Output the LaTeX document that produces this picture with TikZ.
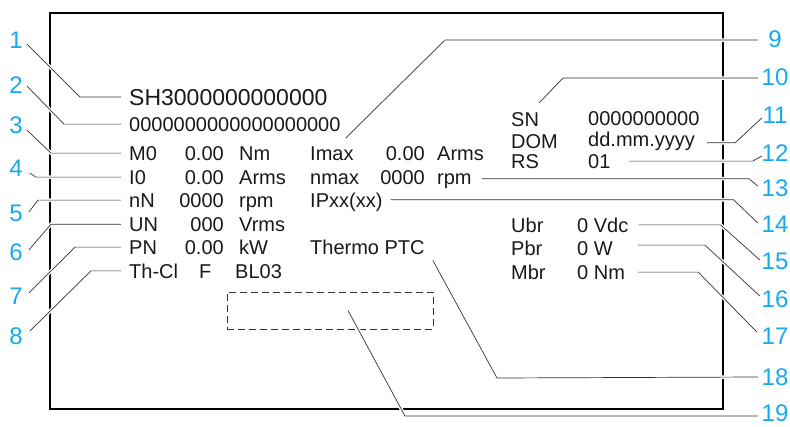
\documentclass[tikz,border=0pt]{standalone}
\usepackage{fontspec}
\setmainfont{Liberation Sans}
\usepackage{tikz}
\usetikzlibrary{positioning}
\definecolor{callout}{RGB}{20,170,240}
\definecolor{ink}{RGB}{25,25,25}
\tikzset{
  num/.style={font=\fontsize{24}{24}\selectfont, text=callout, inner sep=0pt},
  numr/.style={num, minimum width=28pt},
  txt/.style={font=\fontsize{20}{20}\selectfont, text=ink, inner sep=0pt, anchor=base west},
  val/.style={txt, anchor=base east},
  big/.style={txt, font=\fontsize{23}{23}\selectfont},
  leader/.style={draw=black!80, line width=0.7pt, preaction={draw=white, line width=3.5pt}},
}

\begin{document}
\begin{tikzpicture}[x=1pt, y=-1pt]
\useasboundingbox (0,0) rectangle (790,426);
\draw[black, line width=2pt] (50,13) rectangle (723,409);

% callout numbers
\node[num] (n1) at (16,40) {1};
\node[num] (n2) at (16,85) {2};
\node[num] (n3) at (16,125) {3};
\node[num] (n4) at (16,168) {4};
\node[num] (n5) at (16,213) {5};
\node[num] (n6) at (16,252) {6};
\node[num] (n7) at (16,296) {7};
\node[num] (n8) at (16,336) {8};
\node[numr] (n9) at (775,39) {9};
\node[numr] (n10) at (775,77) {10};
\node[numr] (n11) at (775,115) {11};
\node[numr] (n12) at (775,153) {12};
\node[numr] (n13) at (775,188) {13};
\node[numr] (n14) at (775,224) {14};
\node[numr] (n15) at (775,261) {15};
\node[numr] (n16) at (775,299) {16};
\node[numr] (n17) at (775,336) {17};
\node[numr] (n18) at (775,377) {18};
\node[numr] (n19) at (775,413) {19};

% plate text
\node[big] (sh) at (129,105) {SH3000000000000};
\node[txt] (code) at (129,131) {0000000000000000000};
\foreach \nm/\y/\lab/\val/\unit in {m0/160/M0/0.00/Nm, i0/184/I0/0.00/Arms,
    nn/207/nN/0000/rpm, un/231/UN/000/Vrms, pn/254/PN/0.00/kW}
{
\node[txt] (\nm) at (129,\y) {\lab};
\node[val] (\nm-v) at (224,\y) {\val};
\node[txt] (\nm-u) at (239,\y) {\unit};
}
\node[txt] (thcl) at (129,278) {Th-Cl};
\node[txt] (thcl-f) at (199,278) {F};
\node[txt] (thcl-bl) at (235,278) {BL03};

\node[txt] (imax) at (310,160) {Imax};
\node[val] (imax-v) at (425,160) {0.00};
\node[txt] (imax-u) at (437,160) {Arms};
\node[txt] (nmax) at (310,184) {nmax};
\node[val] (nmax-v) at (425,184) {0000};
\node[txt] (nmax-u) at (437,184) {rpm};
\node[txt] (ipxx) at (310,207) {IPxx(xx)};
\node[txt] (thermo) at (310,254) {Thermo PTC};

\node[txt] (sn) at (511,126) {SN};
\node[txt] (sn-v) at (588,125) {0000000000};
\node[txt] (dom) at (511,148) {DOM};
\node[txt] (dom-v) at (588,146) {dd.mm.yyyy};
\node[txt] (rs) at (511,168) {RS};
\node[txt] (rs-v) at (588,168) {01};
\node[txt] (ubr) at (511,232) {Ubr};
\node[txt] (ubr-v) at (577,232) {0 Vdc};
\node[txt] (pbr) at (511,255) {Pbr};
\node[txt] (pbr-v) at (577,255) {0 W};
\node[txt] (mbr) at (511,279) {Mbr};
\node[txt] (mbr-v) at (577,279) {0 Nm};

\node[draw=black!80, line width=0.8pt, dash pattern=on 7pt off 4pt,
  minimum width=206pt, minimum height=37pt, inner sep=0pt] (plate) at (330,310.5) {};

% leaders, left
\draw[leader] ([shift={(4pt,-4pt)}]n1.east) -- ([xshift=-49pt]sh.west) -- ([xshift=-8pt]sh.west);
\draw[leader] ([shift={(4pt,-1pt)}]n2.east) -- ([xshift=-65pt]code.west) -- ([xshift=-8pt]code.west);
\draw[leader] ([shift={(4pt,-5pt)}]n3.east) -- ([xshift=-78pt]m0.west) -- ([xshift=-8pt]m0.west);
\draw[leader] ([shift={(7pt,-5pt)}]n4.east) -- ([xshift=-93pt]i0.west) -- ([xshift=-8pt]i0.west);
\draw[leader] ([shift={(6pt,1pt)}]n5.east) -- ([xshift=-91pt]nn.west) -- ([xshift=-8pt]nn.west);
\draw[leader] ([shift={(6pt,2pt)}]n6.east) -- ([xshift=-78pt]un.west) -- ([xshift=-8pt]un.west);
\draw[leader] ([shift={(6pt,3pt)}]n7.east) -- ([xshift=-54pt]pn.west) -- ([xshift=-8pt]pn.west);
\draw[leader] ([shift={(7pt,5pt)}]n8.east) -- ([xshift=-38pt]thcl.west) -- ([xshift=-8pt]thcl.west);

% leaders, right
\draw[leader] ([shift={(-3pt,-1pt)}]n9.west) -- (445,40) -- ([shift={(-8pt,8pt)}]imax.north east);
\draw[leader] ([shift={(-3pt,-1pt)}]n10.west) -- (563,78) -- ([yshift=9pt]sn.north east);
\draw[leader] ([shift={(1pt,-3pt)}]n11.west) -- ([shift={(40pt,-2pt)}]dom-v.east) -- ([shift={(12pt,-2pt)}]dom-v.east);
\draw[leader] ([shift={(1pt,-3pt)}]n12.west) -- ([xshift=142pt]rs-v.east) -- ([xshift=18pt]rs-v.east);
\draw[leader] ([shift={(-3pt,2pt)}]n13.west) -- ([shift={(277pt,2pt)}]nmax-u.east) -- ([shift={(10pt,2pt)}]nmax-u.east);
\draw[leader] ([shift={(-3pt,1pt)}]n14.west) -- ([shift={(351pt,2pt)}]ipxx.east) -- ([shift={(8pt,2pt)}]ipxx.east);
\draw[leader] ([shift={(-1pt,1pt)}]n15.west) -- ([xshift=92pt]ubr-v.east) -- ([xshift=10pt]ubr-v.east);
\draw[leader] ([shift={(-1pt,3pt)}]n16.west) -- ([shift={(92pt,3pt)}]pbr-v.east) -- ([shift={(25pt,3pt)}]pbr-v.east);
\draw[leader] ([shift={(-4pt,4pt)}]n17.west) -- ([xshift=73pt]mbr-v.east) -- ([xshift=13pt]mbr-v.east);
\draw[leader] ([xshift=-3pt]n18.west) -- (497,378) -- ([shift={(8pt,-6pt)}]thermo.south east);
\draw[leader] ([shift={(-3pt,-3pt)}]n19.west) -- (405,416) -- ([xshift=18pt]plate.center);
\end{tikzpicture}
\end{document}
